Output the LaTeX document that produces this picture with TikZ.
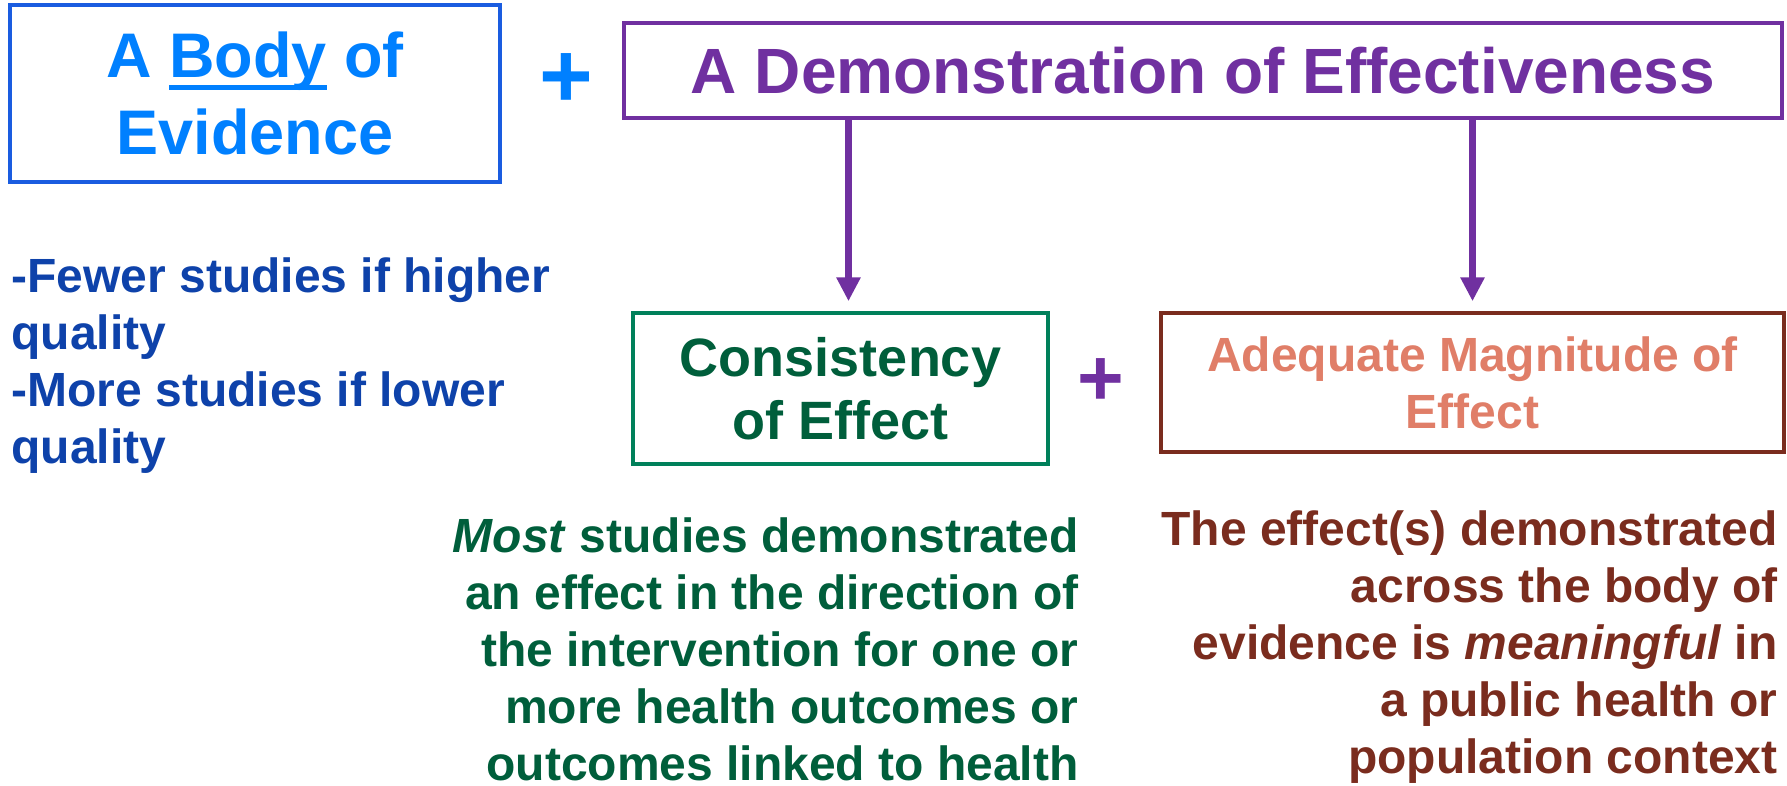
\documentclass[tikz,border=0pt]{standalone}
\usepackage{fontspec}
\setmainfont{Liberation Sans}
\usetikzlibrary{arrows.meta}
\definecolor{bodyblue}{RGB}{0,128,255}
\definecolor{bodyframe}{RGB}{26,92,224}
\definecolor{demopurple}{RGB}{112,48,160}
\definecolor{notesblue}{RGB}{14,66,170}
\definecolor{consgreen}{RGB}{0,94,59}
\definecolor{consframe}{RGB}{0,128,90}
\definecolor{magsalmon}{RGB}{224,126,104}
\definecolor{magbrown}{RGB}{122,44,30}
\newsavebox{\ulbox}
\newcommand{\ulword}[1]{\sbox{\ulbox}{#1}\rlap{\rule[-0.2em]{\wd\ulbox}{0.08em}}\usebox{\ulbox}}

\begin{document}
\begin{tikzpicture}[x=0.5pt,y=-0.5pt,
 box/.style ={draw,line width=1.75pt,inner sep=0pt,align=center,font=\bfseries},
 plussign/.style ={inner sep=0pt,font=\bfseries\fontsize{46}{46}\selectfont},
 link/.style ={-{Triangle[width=11.5pt,length=12pt]},draw=demopurple,line width=3.5pt,shorten >=5pt},
 note/.style ={inner sep=0pt,font=\bfseries\fontsize{24}{28.5}\selectfont}
 ]
\useasboundingbox (0,0) rectangle (1787,786);
%draw body of evidence
\node[box,draw=bodyframe,line width=2pt,text=bodyblue,minimum width=245pt,minimum height=88.5pt,
 font=\bfseries\fontsize{31.5}{38.5}\selectfont] (body) at (255,93.5) {A \ulword{Body} of\\Evidence};
%draw first plus
\node[plussign,text=bodyblue] (plusa) at (566,81) {+};
%draw demonstration
\node[box,draw=demopurple,text=demopurple,minimum width=579pt,minimum height=47.5pt,
 font=\bfseries\fontsize{32}{38}\selectfont] (demo) at (1203,70.5) {A Demonstration of Effectiveness};
%draw consistency
\node[box,draw=consframe,text=consgreen,minimum width=207.5pt,minimum height=75.5pt,
 font=\bfseries\fontsize{27}{31.5}\selectfont] (cons) at (840.5,388.5) {Consistency\\of Effect};
%draw second plus
\node[plussign,text=demopurple,font=\bfseries\fontsize{40}{40}\selectfont] (plusb) at (1101,382) {+};
%draw magnitude
\node[box,draw=magbrown,text=magsalmon,minimum width=311.5pt,minimum height=69.5pt,
 font=\bfseries\fontsize{24}{28.5}\selectfont] (mag) at (1472.5,382.5) {Adequate Magnitude of\\Effect};
%draw arrows
\draw[link] ([xshift=4pt]demo.south -| cons.north) -- ([xshift=4pt]cons.north);
\draw[link] (demo.south -| mag.north) -- (mag.north);
%draw notes
\node[note,text=notesblue,align=left,anchor=north west] (quality) at (11,257)
 {-Fewer studies if higher\\quality\\-More studies if lower\\quality};
\node[note,text=consgreen,align=right,anchor=north east] (most) at (1079,517)
 {\textit{Most} studies demonstrated\\an effect in the direction of\\the intervention for one or\\more health outcomes or\\outcomes linked to health};
\node[note,text=magbrown,align=right,anchor=north east] (meaning) at (1778,510)
 {The effect(s) demonstrated\\across the body of\\evidence is \textit{meaningful} in\\a public health or\\population context};
\end{tikzpicture}
\end{document}
